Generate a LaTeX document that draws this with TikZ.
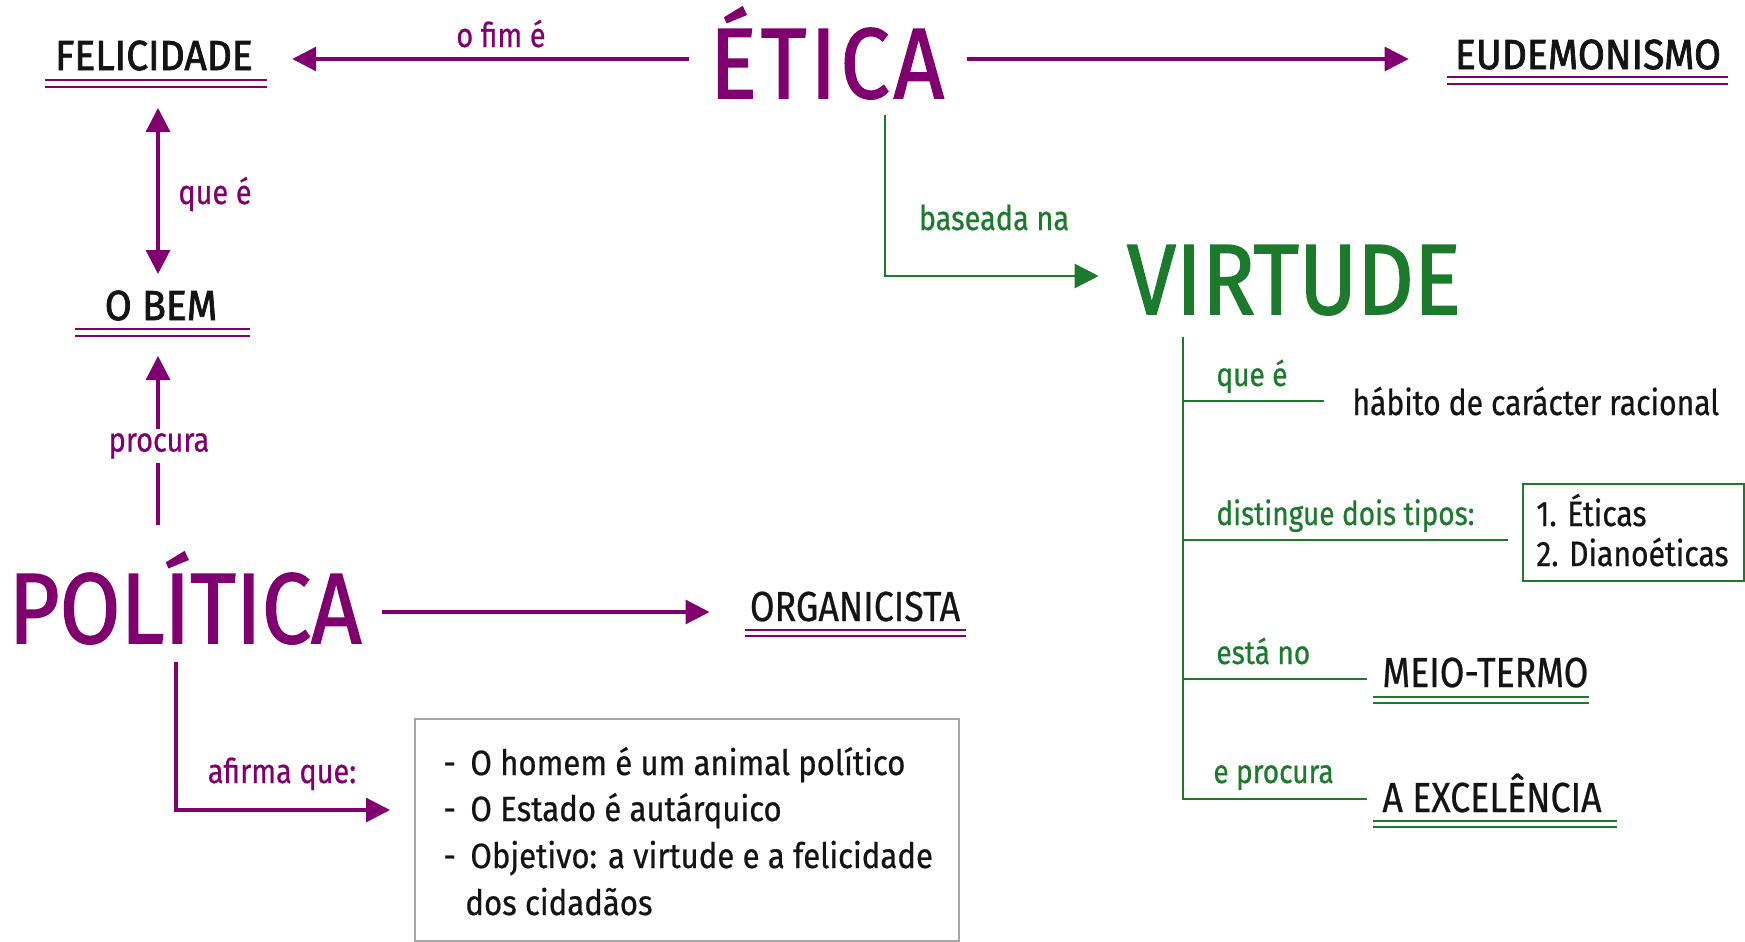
\documentclass[tikz,border=0pt]{standalone}
\usepackage{fontspec}
\setmainfont{Fira Sans}[FakeStretch=0.85,FakeBold=0.6]
\newfontfamily\semib{Fira Sans}[FakeStretch=0.93,FakeBold=1.8]
\newfontfamily\bigf{Fira Sans}[FakeStretch=0.88,FakeBold=1.5]
\newfontfamily\bigsp{Fira Sans}[FakeStretch=0.88,FakeBold=1.5,LetterSpace=4]
\newfontfamily\boxf{Fira Sans}[FakeStretch=0.89,FakeBold=0.6]
\usetikzlibrary{arrows.meta}
\definecolor{pur}{RGB}{128,0,112}
\definecolor{grn}{RGB}{28,122,44}
\definecolor{boxgray}{RGB}{165,165,165}
\definecolor{ink}{RGB}{20,20,20}
\begin{document}
\begin{tikzpicture}[x=0.5pt,y=-0.5pt,
  mytip/.style={-{Triangle[length=12pt,width=12pt]}},
  parr/.style={draw=pur,line width=1.6pt,mytip},
  garr/.style={draw=grn,line width=1.2pt,mytip},
  gline/.style={draw=grn,line width=1.2pt},
  uline/.style={line width=1.3pt},
  big/.style={inner sep=0pt,anchor=base,font=\bigf\fontsize{50}{56}\selectfont},
  concept/.style={inner sep=0pt,anchor=base,text=ink,font=\semib\fontsize{21}{25}\selectfont},
  conceptr/.style={inner sep=0pt,anchor=base west,text=ink,font=\fontsize{21}{25}\selectfont},
  lbl/.style={inner sep=0pt,anchor=base,font=\fontsize{17}{20}\selectfont},
  glbl/.style={inner sep=0pt,anchor=base west,text=grn,font=\fontsize{16.5}{20}\selectfont},
  body/.style={inner sep=0pt,anchor=base west,text=ink,font=\fontsize{17.7}{21}\selectfont},
  boxtxt/.style={inner sep=0pt,anchor=base west,text=ink,font=\boxf\fontsize{17.5}{21}\selectfont},
]
\useasboundingbox (0,0) rectangle (1745,942);
\fill[white] (0,0) rectangle (1745,942);

% ---------- nodes ----------
\node[concept] (felic) at (154,70) {FELICIDADE};
\node[lbl,text=pur] (ofim) at (501,47) {o fim é};
\node[big,text=pur,font=\bigsp\fontsize{50}{56}\selectfont] (etica) at (827,98) {ÉTICA};
\node[concept] (eudem) at (1588,69) {EUDEMONISMO};
\node[lbl,text=pur] (quee) at (215,204) {que é};
\node[concept] (obem) at (161,320) {O BEM};
\node[big,text=pur] (polit) at (185,643) {POLÍTICA};
\node[conceptr,anchor=base] (organ) at (855,621) {ORGANICISTA};
\node[lbl,text=pur] (afirma) at (282,783) {afirma que:};
\node[draw=boxgray,line width=1pt,minimum width=272pt,minimum height=111pt,anchor=north west,inner sep=0pt] (polbox) at (414,718) {};
\node[boxtxt] (l1) at (443,775) {\makebox[13.5pt][l]{-}O homem é um animal político};
\node[boxtxt] (l2) at (443,821) {\makebox[13.5pt][l]{-}O Estado é autárquico};
\node[boxtxt] (l3) at (443,868) {\makebox[13.5pt][l]{-}Objetivo: a virtude e a felicidade};
\node[boxtxt] (l4) at (465,915) {dos cidadãos};

\node[lbl,text=grn] (baseada) at (994,230) {baseada na};
\node[big,text=grn] (virt) at (1294,314) {VIRTUDE};
\node[glbl] (gque) at (1216,386) {que é};
\node[body] (habito) at (1352,415) {hábito de carácter racional};
\node[glbl] (gdist) at (1216,525) {distingue dois tipos:};
\node[draw=grn,line width=1pt,minimum width=110.5pt,minimum height=48.5pt,anchor=north west,inner sep=0pt] (tipos) at (1522,483) {};
\node[body] (t1) at (1536,526) {1. Éticas};
\node[body] (t2) at (1536,566) {2. Dianoéticas};
\node[glbl] (gesta) at (1216,664) {está no};
\node[conceptr] (meio) at (1382,687) {MEIO-TERMO};
\node[glbl] (gproc) at (1213,783) {e procura};
\node[conceptr] (excel) at (1382,812) {A EXCELÊNCIA};

% ---------- underlines ----------
\draw[pur,uline] (45,80) -- (267,80) (45,87) -- (267,87);
\draw[pur,uline] (1447,77) -- (1728,77) (1447,84) -- (1728,84);
\draw[pur,uline] (75,329) -- (250,329) (75,336) -- (250,336);
\draw[pur,uline] (745,630) -- (966,630) (745,636) -- (966,636);
\draw[grn,uline] (1373,697) -- (1589,697) (1373,703) -- (1589,703);
\draw[grn,uline] (1373,821) -- (1617,821) (1373,827) -- (1617,827);

% ---------- connectors ----------
\coordinate (rowtop) at (0,59);
\coordinate (colL) at (158,0);
\coordinate (rowpol) at (0,612);
\coordinate (polbend) at (176,810);
\coordinate (virtbend) at (885,276);
\coordinate (b1) at (1183,401);
\coordinate (b2) at (1183,540);
\coordinate (b3) at (1183,679);
\coordinate (b4) at (1183,799);

\draw[parr,shorten <=10pt,shorten >=19.5pt] (etica.west |- rowtop) -- (felic.east |- rowtop);
\draw[parr,shorten <=11pt,shorten >=23pt] (etica.east |- rowtop) -- (eudem.west |- rowtop);
\draw[parr,{Triangle[length=12pt,width=12pt]}-{Triangle[length=12pt,width=12pt]},shorten <=19pt,shorten >=23pt] (colL |- felic.base) -- (colL |- obem.base);
\draw[parr,shorten <=59pt,shorten >=18pt] (colL |- polit.base) -- (colL |- obem.base);
\node[lbl,text=pur,fill=white,inner sep=2pt,anchor=center] (procura) at (159,446) {procura};
\draw[parr,shorten <=10pt,shorten >=20pt] (polit.east |- rowpol) -- (organ.west |- rowpol);
\draw[parr,shorten <=9.5pt] (polbend |- polit.base) -- (polbend) -- ([xshift=-12pt]polbox.west |- polbend);

\draw[garr,shorten <=8.5pt,shorten >=14pt] (virtbend |- etica.base) -- (virtbend) -- (virt.west |- virtbend);
\draw[gline,shorten <=11.5pt] (b4 |- virt.base) -- (b4) -- ([xshift=-7.5pt]excel.west |- b4);
\draw[gline] (b1) -- ([xshift=-14pt]habito.west |- b1);
\draw[gline] (b2) -- ([xshift=-7pt]tipos.west |- b2);
\draw[gline] (b3) -- ([xshift=-7.5pt]meio.west |- b3);
\end{tikzpicture}
\end{document}
